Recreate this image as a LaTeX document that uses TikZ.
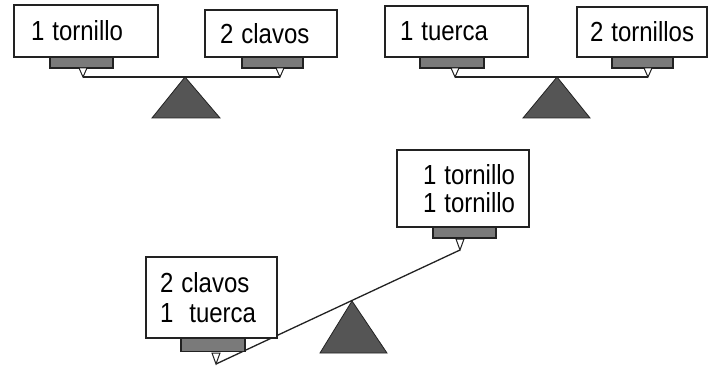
\documentclass[tikz,border=0pt]{standalone}
\usepackage{graphicx}
\usepackage{fontspec}
\setmainfont{Liberation Sans}
\definecolor{panfill}{HTML}{7A7A7A}
\definecolor{fulfill}{HTML}{555555}
\definecolor{edge}{HTML}{222222}
\newcommand{\tallt}[1]{\scalebox{1}[1.15]{#1}}
\tikzset{
  box/.style n args={3}{draw=edge, line width=1.3pt, fill=white, inner ysep=0pt,
    inner xsep=#3, text width=#1, minimum height=#2, align=left,
    font=\fontsize{24}{29}\selectfont},
  pan/.style={draw=edge, line width=1.2pt, fill=panfill, inner sep=0pt, minimum height=11pt},
  hookshape/.style={draw=edge, line width=1pt, fill=white},
  beam/.style={draw=edge, line width=1.3pt},
  fulcrum/.style={draw=edge, line width=0.8pt, fill=fulfill}
}
\begin{document}
\begin{tikzpicture}[x=1pt,y=-1pt]
\useasboundingbox (0,0) rectangle (719,371);
\fill[white] (0,0) rectangle (719,371);

% ---------- top left balance ----------
\draw[fulcrum] (185,77) -- (220,118) -- (152,118) -- cycle;
\coordinate (ha1) at (83,77);
\coordinate (ha2) at (280,77);
\draw[beam] (ha1) -- (ha2);
\node[box={110pt}{52pt}{17pt}] (a1) at (86,31) {\tallt{1 tornillo}};
\node[box={102pt}{47pt}{15pt}] (a2) at (271,33.5) {\tallt{2 clavos}};
\node[pan, minimum width=63pt] (pa1) at (81.5,62.5) {};
\node[pan, minimum width=61pt] (pa2) at (272.5,62.5) {};
\draw[hookshape] (ha1) -- ++(-4,-9) -- ++(8,0) -- cycle;
\draw[hookshape] (ha2) -- ++(-4,-9) -- ++(8,0) -- cycle;

% ---------- top right balance ----------
\draw[fulcrum] (557,77) -- (590,118) -- (523,118) -- cycle;
\coordinate (hb1) at (455,77);
\coordinate (hb2) at (648,77);
\draw[beam] (hb1) -- (hb2);
\node[box={113pt}{51pt}{15pt}] (b1) at (456.5,31.5) {\tallt{1 tuerca}};
\node[box={104pt}{50pt}{13pt}] (b2) at (642,32) {\tallt{2 tornillos}};
\node[pan, minimum width=64pt] (pb1) at (452,62.5) {};
\node[pan, minimum width=61pt] (pb2) at (642.5,62.5) {};
\draw[hookshape] (hb1) -- ++(-4,-9) -- ++(8,0) -- cycle;
\draw[hookshape] (hb2) -- ++(-4,-9) -- ++(8,0) -- cycle;

% ---------- bottom tilted balance ----------
\draw[fulcrum] (352,301) -- (387,353) -- (320,353) -- cycle;
\coordinate (hc1) at (460,250);
\coordinate (hc2) at (216,364);
\draw[beam] (hc2) -- (hc1);
\node[box={80pt}{77pt}{26pt}] (c1) at (463,188.5) {\tallt{1 tornillo}\\[-1pt]\tallt{1 tornillo}};
\node[box={103pt}{81pt}{14pt}] (c2) at (211.5,297.5) {\tallt{2 clavos}\\[1pt]\tallt{1\ \ tuerca}};
\node[pan, minimum width=63pt] (pc1) at (464.5,232.5) {};
\node[pan, minimum width=64pt, minimum height=13pt] (pc2) at (213,345) {};
\draw[hookshape] (hc1) -- ++(-4,-11) -- ++(8,0) -- cycle;
\draw[hookshape] (hc2) -- ++(-4,-11) -- ++(8,0) -- cycle;
\end{tikzpicture}
\end{document}
